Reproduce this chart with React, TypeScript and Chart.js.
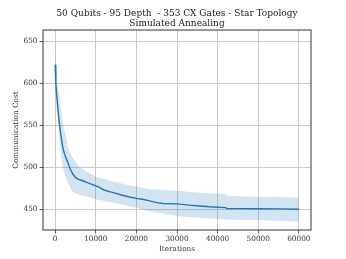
import { useEffect, useRef } from "react";
import { Chart, registerables } from "chart.js";

Chart.register(...registerables);

const titleLines = ["50 Qubits - 95 Depth  - 353 CX Gates - Star Topology", "Simulated Annealing"];
const xLabel = "Iterations";
const yLabel = "Communication Cost";
const xTicks = [0, 10000, 20000, 30000, 40000, 50000, 60000];
const yTicks = [450, 500, 550, 600, 650];

const meanIters = [0, 100, 200, 400, 600, 800, 1000, 1200, 1450, 1750, 2100, 2500, 3100, 3700, 4350, 5000, 5600, 6800, 7800, 8900, 10000, 10900, 12000, 13400, 15000, 16300, 18000, 20000, 21500, 23300, 25000, 26600, 30000, 33000, 35600, 38000, 40000, 42000, 42300, 46000, 50000, 55000, 60000];
const meanCost = [622, 610, 600, 585, 573, 562, 554, 545, 537, 527, 519, 513, 506, 498, 492, 488, 486, 484, 482, 480, 478, 476, 473, 471, 469, 467, 465, 463, 462, 460, 458, 457, 456.5, 455, 454, 453, 452.5, 452, 451, 450.8, 450.7, 450.5, 450];

const bandIters = [0, 100, 200, 400, 700, 1000, 1300, 1600, 1900, 2200, 2700, 3100, 3800, 4500, 6000, 8000, 10000, 12100, 14000, 16200, 18000, 20000, 23300, 26600, 30000, 35000, 40000, 42200, 42400, 45000, 50000, 60000];
const bandUpper = [652, 640, 625, 610, 595, 583, 572, 563, 553, 545, 536, 524, 516, 510, 500, 494, 489, 486, 483, 481, 479, 477, 474, 473, 472, 470, 468.5, 468, 466, 465.5, 465, 464];
const bandLower = [598, 592, 585, 572, 556, 540, 522, 509, 500, 494, 487, 482, 475, 470, 467, 465, 462, 460, 458, 456, 454, 452, 447.5, 445, 442, 440, 438.5, 438, 438, 437.5, 437, 435.5];

const textColor = "#333333";
const serif = "'DejaVu Serif', serif";

const framePlugin = {
  id: "frameAndTitles",
  afterDatasetsDraw(chart: any) {
    const { ctx, chartArea } = chart;
    ctx.save();
    ctx.strokeStyle = "#333333";
    ctx.lineWidth = 1;
    ctx.strokeRect(chartArea.left, chartArea.top, chartArea.right - chartArea.left, chartArea.bottom - chartArea.top);
    ctx.restore();
  },
  afterDraw(chart: any) {
    const { ctx, chartArea } = chart;
    const cx = (chartArea.left + chartArea.right) / 2;
    const cy = (chartArea.top + chartArea.bottom) / 2;
    ctx.save();
    ctx.fillStyle = "#222222";
    ctx.textAlign = "center";
    ctx.textBaseline = "middle";
    ctx.font = `9px ${serif}`;
    ctx.fillText(titleLines[0], cx, 14);
    ctx.fillText(titleLines[1], cx, 23.5);
    ctx.fillStyle = textColor;
    ctx.font = `7.3px ${serif}`;
    ctx.fillText(xLabel, cx, 249);
    ctx.translate(16.5, cy);
    ctx.rotate(-Math.PI / 2);
    ctx.fillText(yLabel, 0, 0);
    ctx.restore();
  },
};

export default function App() {
  const ref = useRef<HTMLCanvasElement>(null);
  useEffect(() => {
    document.body.style.margin = "0";
    const canvas = ref.current!;
    const tickFont = { family: serif, size: 7.3 };
    const chart = new Chart(canvas, {
      type: "line",
      data: {
        datasets: [
          {
            label: "mean",
            data: meanIters.map((x, i) => ({ x, y: meanCost[i] })),
            borderColor: "#1f77b4",
            borderWidth: 1.4,
            pointRadius: 0,
            fill: false,
            tension: 0,
          },
          {
            label: "upper",
            data: bandIters.map((x, i) => ({ x, y: bandUpper[i] })),
            borderWidth: 0,
            borderColor: "rgba(0,0,0,0)",
            backgroundColor: "rgba(31,119,180,0.2)",
            pointRadius: 0,
            fill: "+1",
            tension: 0,
          },
          {
            label: "lower",
            data: bandIters.map((x, i) => ({ x, y: bandLower[i] })),
            borderWidth: 0,
            borderColor: "rgba(0,0,0,0)",
            pointRadius: 0,
            fill: false,
            tension: 0,
          },
        ],
      },
      options: {
        responsive: false,
        animation: false,
        events: [],
        layout: { padding: { top: 30, right: 35, left: 0, bottom: 0 } },
        plugins: { legend: { display: false }, title: { display: false }, tooltip: { enabled: false } },
        scales: {
          x: {
            type: "linear",
            min: -3000,
            max: 63000,
            afterBuildTicks: (s: any) => {
              s.ticks = xTicks.map((v) => ({ value: v }));
            },
            afterFit: (s: any) => {
              s.height = 29;
            },
            ticks: {
              font: tickFont,
              color: textColor,
              padding: 1.5,
              maxRotation: 0,
              autoSkip: false,
              callback: (v: any) => String(v),
            },
            grid: { color: "#cbcbcb", lineWidth: 1, tickLength: 3.5, tickColor: "#333333", tickWidth: 0.8 },
            border: { display: false },
          },
          y: {
            type: "linear",
            min: 425.4,
            max: 663.3,
            afterBuildTicks: (s: any) => {
              s.ticks = yTicks.map((v) => ({ value: v }));
            },
            afterFit: (s: any) => {
              s.width = 43;
            },
            ticks: {
              font: tickFont,
              color: textColor,
              padding: 2,
              autoSkip: false,
              callback: (v: any) => String(v),
            },
            grid: { color: "#cbcbcb", lineWidth: 1, tickLength: 3.5, tickColor: "#333333", tickWidth: 0.8 },
            border: { display: false },
          },
        },
      },
      plugins: [framePlugin],
    } as any);
    return () => chart.destroy();
  }, []);
  return (
    <div style={{ width: 346, height: 259 }}>
      <canvas ref={ref} width={346} height={259} style={{ display: "block" }} />
    </div>
  );
}
